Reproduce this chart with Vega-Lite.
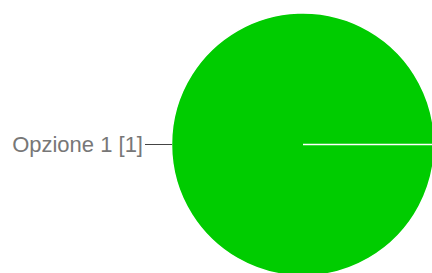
{
  "$schema": "https://vega.github.io/schema/vega-lite/v6.json",
  "width": 258,
  "height": 257,
  "autosize": {"type": "none"},
  "padding": {"left": 174, "top": 16, "right": 0, "bottom": 0},
  "background": "white",
  "view": {"stroke": null},
  "data": {"values": [{"option": "Opzione 1 [1]", "count": 1}]},
  "layer": [
    {
      "mark": {"type": "arc", "radius": 131.5, "stroke": "white", "strokeWidth": 1.5},
      "encoding": {
        "theta": {"field": "count", "type": "quantitative", "stack": true, "scale": {"range": [1.5708, 7.8535]}},
        "color": {"field": "option", "type": "nominal", "scale": {"range": ["#00cc00"]}, "legend": null}
      }
    },
    {
      "mark": {"type": "arc", "radius": 158, "radius2": 131, "fill": "#444444"},
      "encoding": {
        "theta": {"value": 4.7085},
        "theta2": {"value": 4.7160}
      }
    },
    {
      "mark": {"type": "text", "radius": 160, "align": "right", "baseline": "middle", "font": "Liberation Sans", "fontSize": 22, "fill": "#777777"},
      "encoding": {
        "theta": {"field": "count", "type": "quantitative", "stack": true},
        "text": {"field": "option", "type": "nominal"}
      }
    }
  ]
}
